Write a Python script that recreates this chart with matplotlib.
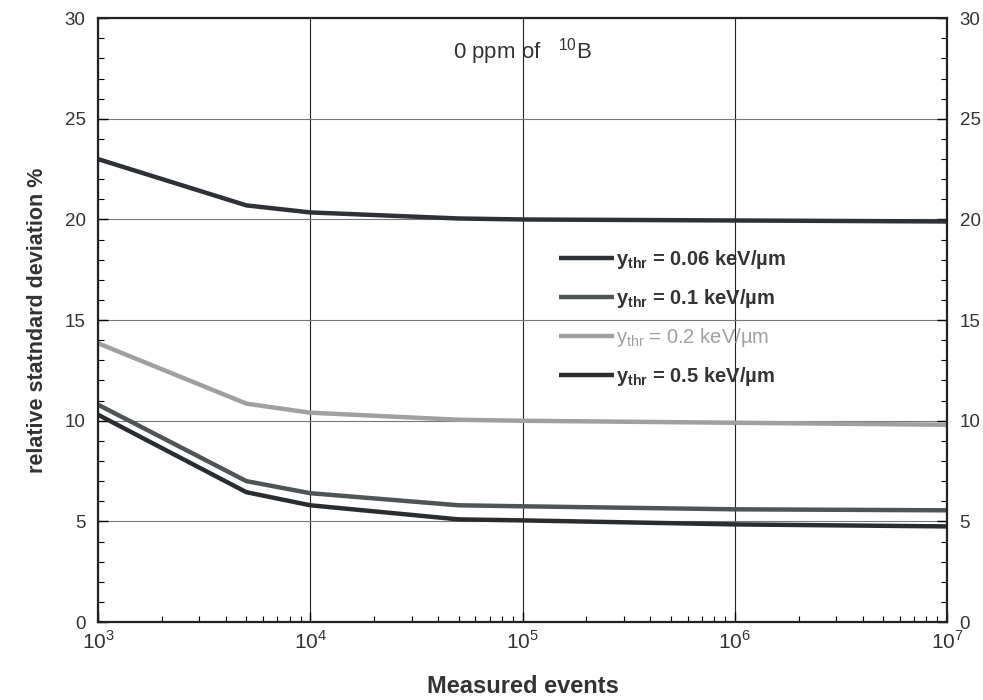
import matplotlib
matplotlib.use("Agg")
import matplotlib.pyplot as plt
from matplotlib.ticker import FixedLocator, NullFormatter

plt.rcParams['font.family'] = ['Liberation Sans', 'DejaVu Sans']
plt.rcParams['mathtext.fontset'] = 'custom'
plt.rcParams['mathtext.rm'] = 'Liberation Sans'
plt.rcParams['mathtext.bf'] = 'Liberation Sans:bold'

# measured events and relative standard deviation (%) for each threshold
events = [1e3, 5e3, 1e4, 5e4, 1e5, 1e6, 1e7]
sd_006 = [23.0, 20.7, 20.35, 20.05, 20.0, 19.95, 19.9]
sd_01 = [10.8, 7.0, 6.4, 5.8, 5.75, 5.6, 5.55]
sd_02 = [13.85, 10.85, 10.4, 10.05, 10.0, 9.9, 9.8]
sd_05 = [10.3, 6.45, 5.8, 5.1, 5.05, 4.85, 4.75]

labels = [r'$\mathbf{y_{thr}}$ = 0.06 keV/µm',
          r'$\mathbf{y_{thr}}$ = 0.1 keV/µm',
          r'$\mathrm{y_{thr}}$ = 0.2 keV/µm',
          r'$\mathbf{y_{thr}}$ = 0.5 keV/µm']
colors = ['#2e3236', '#4f5457', '#a0a0a0', '#2a2d30']
series = [sd_006, sd_01, sd_02, sd_05]

fig = plt.figure(figsize=(9.83, 7.0), dpi=100)
ax = fig.add_axes([0.0997, 0.1114, 0.8637, 0.8626])

for vals, c, lab in zip(series, colors, labels):
    ax.plot(events, vals, color=c, lw=3.2, label=lab, solid_capstyle='butt')

ax.set_xscale('log')
ax.set_xlim(1e3, 1e7)
ax.set_ylim(0, 30)

ax.set_yticks([0, 5, 10, 15, 20, 25, 30])
ax.yaxis.set_minor_locator(FixedLocator([v for v in range(31) if v % 5]))
ax.set_xticks([1e3, 1e4, 1e5, 1e6, 1e7])
ax.set_xticklabels([r'$10^{%d}$' % e for e in range(3, 8)])
ax.xaxis.set_minor_formatter(NullFormatter())

ax.tick_params(which='both', direction='in', top=False, right=True,
               labelright=True, labelsize=13.5, pad=9, labelcolor='#333333')
ax.tick_params(which='major', length=7, width=1)
ax.tick_params(which='minor', length=4, width=0.8)
ax.tick_params(axis='x', labelsize=15, pad=6)

# grid: pale horizontal lines, darker vertical decades
ax.grid(axis='y', which='major', color='#777777', lw=0.8)
ax.grid(axis='x', which='major', color='#222222', lw=0.8)
ax.set_axisbelow(True)
for s in ax.spines.values():
    s.set_linewidth(1.6)
    s.set_color('#222222')

ax.set_ylabel('relative statndard deviation %', fontsize=15.5, fontweight='bold',
              color='#333333', labelpad=12)
ax.set_xlabel('Measured events', fontsize=17, fontweight='bold', color='#333333',
              family=['Liberation Sans Narrow', 'Liberation Sans'], labelpad=16)

ax.text(0.5, 0.945, r'0 ppm of   $^{10}$B', transform=ax.transAxes,
        ha='center', va='center', fontsize=16, color='#333333')

leg = ax.legend(loc='upper left', bbox_to_anchor=(0.522, 0.65), frameon=False,
                handlelength=2.7, handletextpad=0.1, labelspacing=0.8,
                prop={'weight': 'bold', 'size': 14.5})
for t, c in zip(leg.get_texts(), colors):
    t.set_color(c if c == '#a0a0a0' else '#333333')
leg.get_texts()[2].set_fontweight('normal')

fig.savefig('out.png', dpi=100)
